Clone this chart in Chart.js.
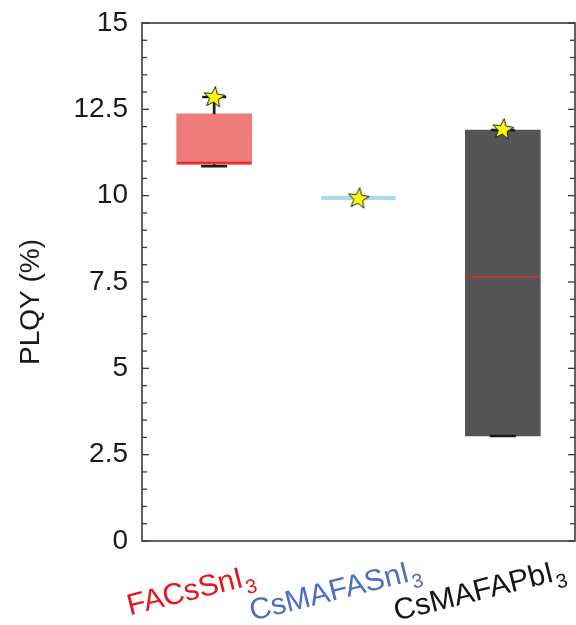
<!DOCTYPE html>
<html><head><meta charset="utf-8">
<script src="https://cdn.jsdelivr.net/npm/chart.js@4.4.0/dist/chart.umd.min.js"></script>
<style>html,body{margin:0;padding:0;background:#fff}#wrap{width:576px;height:625px}</style>
</head><body><div id="wrap"><canvas id="c" width="576" height="625"></canvas></div>
<script>
// ---- data ----
const categories = ['FACsSnI', 'CsMAFASnI', 'CsMAFAPbI'];
const labelSubscripts = ['3', '3', '3'];
const whiskerLow = [10.85, null, 3.04];
const boxQ1 = [10.9, 9.93, 3.04];
const boxMedian = [10.95, 9.93, 7.65];
const boxQ3 = [12.37, 9.93, 11.9];
const whiskerHigh = [12.86, null, 11.9];
const starValues = [12.86, 9.93, 11.93];
const yTitle = 'PLQY (%)';

// ---- styles ----
const FONT = "'Liberation Sans', Arial, sans-serif";
const boxColors = ['#EF7B7B', '#A9DCE5', '#555555'];
const medianColors = ['#E5262B', '#A9DCE5', '#B5393B'];
const medianWidths = [2, 4, 2];
const labelColors = ['#E8141B', '#4E6CC6', '#151515'];

function makeStar() {
  const c = document.createElement('canvas');
  c.width = 26; c.height = 26;
  const g = c.getContext('2d');
  const R = 11, r = 4.6, cx = 13, cy = 13.5;
  g.beginPath();
  for (let i = 0; i < 10; i++) {
    const ang = -Math.PI / 2 + i * Math.PI / 5 + 0.12;
    const rad = i % 2 === 0 ? R : r;
    const px = cx + rad * Math.cos(ang), py = cy + rad * Math.sin(ang);
    i === 0 ? g.moveTo(px, py) : g.lineTo(px, py);
  }
  g.closePath();
  g.fillStyle = '#FFFF00';
  g.fill();
  g.lineWidth = 1;
  g.strokeStyle = '#1a1a1a';
  g.stroke();
  return c;
}
const starImg = makeStar();

const framePlugin = {
  id: 'frame',
  afterDraw(chart) {
    const { ctx, chartArea: a, scales: { x, y } } = chart;
    ctx.save();
    ctx.strokeStyle = '#3a3a3a';
    ctx.lineWidth = 1.3;
    const seg = (x1, y1, x2, y2) => { ctx.beginPath(); ctx.moveTo(x1, y1); ctx.lineTo(x2, y2); ctx.stroke(); };
    const tv = y.ticks.map(t => t.value);
    for (let i = 0; i < tv.length; i++) {
      const py = y.getPixelForValue(tv[i]);
      seg(a.left, py, a.left + 7, py);
      seg(a.right, py, a.right - 7, py);
      if (i < tv.length - 1) {
        for (let k = 1; k < 5; k++) {
          const my = y.getPixelForValue(tv[i] + (tv[i + 1] - tv[i]) * k / 5);
          seg(a.left, my, a.left + 5, my);
          seg(a.right, my, a.right - 5, my);
        }
      }
    }
    ctx.lineWidth = 1.6;
    ctx.strokeRect(a.left, a.top, a.right - a.left, a.bottom - a.top);

    // y-axis title
    ctx.save();
    ctx.translate(31, a.top + (a.bottom - a.top) / 2 + 20);
    ctx.rotate(-Math.PI / 2);
    ctx.fillStyle = '#1a1a1a';
    ctx.font = '28px ' + FONT;
    ctx.textAlign = 'center';
    ctx.textBaseline = 'middle';
    ctx.fillText(yTitle, 0, 0);
    ctx.restore();

    // rotated, coloured category labels with subscripts
    const ang = -14 * Math.PI / 180;
    categories.forEach((lab, i) => {
      const px = x.getPixelForValue(i) - 24;
      const py = a.bottom + 49;
      ctx.save();
      ctx.translate(px, py);
      ctx.rotate(ang);
      ctx.fillStyle = labelColors[i];
      ctx.textBaseline = 'alphabetic';
      ctx.textAlign = 'left';
      ctx.font = '30px ' + FONT;
      const wm = ctx.measureText(lab).width;
      ctx.font = '20px ' + FONT;
      const ws = ctx.measureText(labelSubscripts[i]).width;
      const sx = -(wm + ws) / 2;
      ctx.font = '30px ' + FONT;
      ctx.fillText(lab, sx, 10);
      ctx.font = '20px ' + FONT;
      ctx.fillText(labelSubscripts[i], sx + wm + 1, 18);
      ctx.restore();
    });
    ctx.restore();
  }
};

const floating = (lo, hi) => lo.map((v, i) => (v === null || hi[i] === null) ? null : [v, hi[i]]);

new Chart(document.getElementById('c'), {
  type: 'bar',
  data: {
    labels: categories,
    datasets: [
      { type: 'bar', data: floating(boxQ1, boxQ3), backgroundColor: boxColors, borderWidth: 0,
        barThickness: 75, grouped: false, order: 6 },
      { type: 'bar', data: floating(boxQ3, whiskerHigh), backgroundColor: '#1a1a1a', borderWidth: 0,
        barThickness: 2, grouped: false, order: 5 },
      { type: 'bar', data: floating(whiskerLow, boxQ1), backgroundColor: '#1a1a1a', borderWidth: 0,
        barThickness: 2, grouped: false, order: 5 },
      { type: 'line', data: boxMedian, showLine: false, pointStyle: 'line', pointRadius: 37,
        pointHoverRadius: 37, borderColor: medianColors, pointBorderColor: medianColors,
        pointBorderWidth: medianWidths, order: 4 },
      { type: 'line', data: whiskerHigh, showLine: false, pointStyle: 'line', pointRadius: 12,
        borderColor: '#1a1a1a', pointBorderColor: '#1a1a1a', pointBorderWidth: 2.5, order: 3 },
      { type: 'line', data: whiskerLow, showLine: false, pointStyle: 'line', pointRadius: 13,
        borderColor: '#1a1a1a', pointBorderColor: '#1a1a1a', pointBorderWidth: 2.5, order: 3 },
      { type: 'line', data: starValues, showLine: false, pointStyle: starImg, pointRadius: 11,
        order: 1 }
    ]
  },
  options: {
    responsive: false,
    animation: false,
    devicePixelRatio: 1,
    layout: { autoPadding: false, padding: { top: 23, right: 1, left: 0, bottom: 0 } },
    plugins: { legend: { display: false }, tooltip: { enabled: false } },
    scales: {
      x: {
        ticks: { display: false },
        grid: { display: false, drawTicks: false },
        border: { display: false },
        afterFit(s) { s.height = 84; s.paddingLeft = 0; s.paddingRight = 0; }
      },
      y: {
        min: 0, max: 15,
        ticks: {
          stepSize: 2.5, padding: 14, color: '#1a1a1a',
          font: { family: FONT, size: 28 },
          callback: v => String(v)
        },
        grid: { display: false, drawTicks: false },
        border: { display: false },
        title: { display: false },
        afterFit(s) { s.width = 142; s.paddingTop = 0; s.paddingBottom = 0; }
      }
    }
  },
  plugins: [framePlugin]
});
</script>
</body></html>
